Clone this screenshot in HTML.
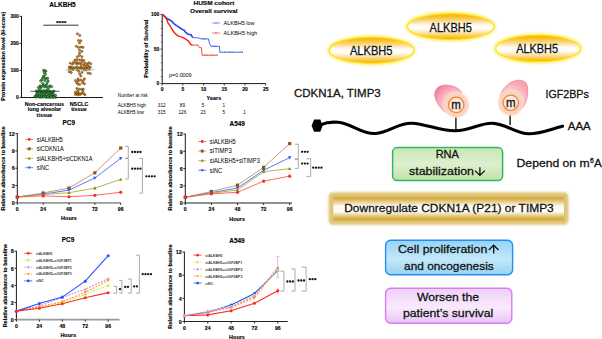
<!DOCTYPE html>
<html><head><meta charset="utf-8"><style>
html,body{margin:0;padding:0;background:#fff;width:602px;height:339px;overflow:hidden}
svg{display:block}
text{font-family:"Liberation Sans", sans-serif}
.r text{stroke:#111;stroke-width:0.28px}
.l text[font-weight=bold]{stroke:#000;stroke-width:0.12px}
</style></head><body>
<svg width="602" height="339" viewBox="0 0 602 339">
<rect width="602" height="339" fill="#fff"/>
<g class="r">
<defs>
 <linearGradient id="gy" x1="0" y1="0" x2="0" y2="1">
  <stop offset="0" stop-color="#f5b400"/>
  <stop offset="0.12" stop-color="#f7c028"/>
  <stop offset="0.3" stop-color="#fbde96"/>
  <stop offset="0.46" stop-color="#fffdf8"/>
  <stop offset="0.58" stop-color="#ffffff"/>
  <stop offset="0.75" stop-color="#fbe2a0"/>
  <stop offset="0.9" stop-color="#f7c432"/>
  <stop offset="1" stop-color="#f5b400"/>
 </linearGradient>
 <filter id="glowY" x="-20%" y="-50%" width="140%" height="200%">
  <feGaussianBlur stdDeviation="0.9"/>
 </filter>
 <linearGradient id="gg" x1="0" y1="0" x2="0" y2="1">
  <stop offset="0" stop-color="#d4a838"/>
  <stop offset="0.08" stop-color="#d8b048"/>
  <stop offset="0.4" stop-color="#fdfbf4"/>
  <stop offset="0.62" stop-color="#fdfbf4"/>
  <stop offset="0.9" stop-color="#d8b048"/>
  <stop offset="1" stop-color="#d4a838"/>
 </linearGradient>
 <filter id="glowG" x="-10%" y="-50%" width="120%" height="200%">
  <feGaussianBlur stdDeviation="1.1"/>
 </filter>
 <linearGradient id="ggr" x1="0" y1="0" x2="0" y2="1">
  <stop offset="0" stop-color="#c8e7b2"/>
  <stop offset="0.5" stop-color="#dcf0cf"/>
  <stop offset="1" stop-color="#c0e3a7"/>
 </linearGradient>
 <linearGradient id="gbl" x1="0" y1="0" x2="0" y2="1">
  <stop offset="0" stop-color="#97d3f3"/>
  <stop offset="0.55" stop-color="#c4e8f9"/>
  <stop offset="1" stop-color="#96d3f3"/>
 </linearGradient>
 <linearGradient id="gpk" x1="0" y1="0" x2="0" y2="1">
  <stop offset="0" stop-color="#eed0f8"/>
  <stop offset="0.55" stop-color="#f9eafc"/>
  <stop offset="1" stop-color="#e8c5f5"/>
 </linearGradient>
 <radialGradient id="pinkg" cx="0.55" cy="0.5" r="0.6">
  <stop offset="0" stop-color="#fcd0d8"/>
  <stop offset="0.6" stop-color="#f8a8b8"/>
  <stop offset="1" stop-color="#f27a95"/>
 </radialGradient>
 <radialGradient id="peach" cx="0.5" cy="0.5" r="0.5">
  <stop offset="0" stop-color="#fbcdb0"/>
  <stop offset="0.55" stop-color="#fbd3bc"/>
  <stop offset="0.75" stop-color="#fcdccc" stop-opacity="0.85"/>
  <stop offset="1" stop-color="#fde8de" stop-opacity="0"/>
 </radialGradient>
</defs>

<ellipse cx="450.7" cy="26.6" rx="43.8" ry="13.4" fill="none" stroke="#ffe94a" stroke-width="3.2" opacity="0.75" filter="url(#glowY)"/>
<ellipse cx="450.7" cy="26.6" rx="43.3" ry="12.9" fill="url(#gy)" stroke="#ffe000" stroke-width="1.1"/>
<text x="450.7" y="31.7" font-size="12.2" font-weight="normal" text-anchor="middle" fill="#111" textLength="42.2" lengthAdjust="spacingAndGlyphs" >ALKBH5</text>
<ellipse cx="371.5" cy="50.3" rx="42.8" ry="13.5" fill="none" stroke="#ffe94a" stroke-width="3.2" opacity="0.75" filter="url(#glowY)"/>
<ellipse cx="371.5" cy="50.3" rx="42.3" ry="13.0" fill="url(#gy)" stroke="#ffe000" stroke-width="1.1"/>
<text x="371.2" y="54.9" font-size="12.2" font-weight="normal" text-anchor="middle" fill="#111" textLength="42.4" lengthAdjust="spacingAndGlyphs" >ALKBH5</text>
<ellipse cx="538" cy="48.5" rx="42.8" ry="13.700000000000001" fill="none" stroke="#ffe94a" stroke-width="3.2" opacity="0.75" filter="url(#glowY)"/>
<ellipse cx="538" cy="48.5" rx="42.3" ry="13.200000000000001" fill="url(#gy)" stroke="#ffe000" stroke-width="1.1"/>
<text x="537.1" y="53.1" font-size="12.2" font-weight="normal" text-anchor="middle" fill="#111" textLength="41.9" lengthAdjust="spacingAndGlyphs" >ALKBH5</text>
<text x="294" y="97.3" font-size="11.4" font-weight="normal" text-anchor="start" fill="#111" textLength="86.7" lengthAdjust="spacingAndGlyphs" >CDKN1A, TIMP3</text>
<text x="545.5" y="97.5" font-size="11.4" font-weight="normal" text-anchor="start" fill="#111" textLength="43.3" lengthAdjust="spacingAndGlyphs" >IGF2BPs</text>
<text x="567.8" y="129.8" font-size="11.4" font-weight="normal" text-anchor="start" fill="#111" textLength="22.9" lengthAdjust="spacingAndGlyphs" >AAA</text>
<radialGradient id="pk1" gradientUnits="userSpaceOnUse" cx="455.8" cy="105.6" r="26"><stop offset="0.45" stop-color="#fbc9cf"/><stop offset="0.7" stop-color="#f8a4b4"/><stop offset="0.9" stop-color="#f5859f"/><stop offset="1" stop-color="#f27090"/></radialGradient>
<radialGradient id="pk2" gradientUnits="userSpaceOnUse" cx="510.4" cy="102.6" r="28"><stop offset="0.45" stop-color="#fbc9cf"/><stop offset="0.7" stop-color="#f8a9b6"/><stop offset="0.9" stop-color="#f6a0b2"/><stop offset="1" stop-color="#f27090"/></radialGradient>
<radialGradient id="peach2"><stop offset="0" stop-color="#fcd4be"/><stop offset="0.78" stop-color="#fbd2bc"/><stop offset="0.88" stop-color="#fcdaca" stop-opacity="0.8"/><stop offset="1" stop-color="#fde8de" stop-opacity="0"/></radialGradient>
<path d="M445.3,112.4 C440,108 434.5,100 434.7,94.2 C435,88 440,85 446,85 C452,85.2 459,88 461.3,91.8 C462.5,96 458,104 452,108 C449,110 447,111.5 445.3,112.4 Z" fill="url(#pk1)" stroke="#f47a96" stroke-width="0.7"/>
<path d="M500.3,96 C502,89 508,83 514,81 C519,79.5 524.5,80 526.6,84 C528.6,89 528,98 525,104 C523.5,107 522,108.5 520.5,109 C514,109 504,104 500.3,96 Z" fill="url(#pk2)" stroke="#f47a96" stroke-width="0.7"/>
<path d="M321,124.6 C327,122 333,121.8 338,122.3 C352,123.6 362,134.5 375.5,133.5 C389,132.6 398,122.6 412,123.2 C426,123.8 440,131.2 455.5,130.8 C470,130.4 480,123 492,123.2 C506,123.5 516,134 529,133.8 C541,133.6 552,128.8 562.5,126.2" fill="none" stroke="#000" stroke-width="3.1" stroke-linecap="round"/>
<polygon points="314.1,119.6 320.3,119.6 322.6,125.7 320.3,131.8 314.1,131.8 311.6,125.7" fill="#000"/>
<line x1="455.9" y1="112.4" x2="455.9" y2="130.5" stroke="#000" stroke-width="1.3" />
<line x1="510.1" y1="110.4" x2="510.1" y2="125" stroke="#000" stroke-width="1.3" />
<circle cx="456.2" cy="104.9" r="14" fill="url(#peach2)"/>
<circle cx="456.2" cy="104.9" r="7.7" fill="#fde8dc" stroke="#e8863a" stroke-width="1.2"/>
<text x="456.09999999999997" y="108.7" font-size="12" font-weight="normal" text-anchor="middle" fill="#111" textLength="9.6" lengthAdjust="spacingAndGlyphs" >m</text>
<circle cx="510.8" cy="102.8" r="14" fill="url(#peach2)"/>
<circle cx="510.8" cy="102.8" r="7.7" fill="#fde8dc" stroke="#e8863a" stroke-width="1.2"/>
<text x="510.7" y="106.6" font-size="12" font-weight="normal" text-anchor="middle" fill="#111" textLength="9.6" lengthAdjust="spacingAndGlyphs" >m</text>
<rect x="392.6" y="147.6" width="110" height="33" rx="4.5" fill="url(#ggr)" stroke="#2fb85e" stroke-width="1.5"/>
<text x="447.3" y="158.3" font-size="11.4" font-weight="normal" text-anchor="middle" fill="#111" textLength="23.3" lengthAdjust="spacingAndGlyphs" >RNA</text>
<text x="409.0" y="175.4" font-size="11.4" font-weight="normal" text-anchor="start" fill="#111" textLength="65" lengthAdjust="spacingAndGlyphs" >stabilization</text>
<path d="M479.9,167.2 L479.9,175.4 M475,170.6 L479.9,175.4 L484.8,170.6" fill="none" stroke="#111" stroke-width="1.3"/>
<text x="516.6" y="167.4" font-size="11.4" font-weight="normal" text-anchor="start" fill="#111" textLength="73" lengthAdjust="spacingAndGlyphs" >Depend on m</text>
<text x="590.0" y="162.6" font-size="7.0" font-weight="normal" text-anchor="start" fill="#111" textLength="3.8" lengthAdjust="spacingAndGlyphs" >6</text>
<text x="594.0" y="167.4" font-size="11.4" font-weight="normal" text-anchor="start" fill="#111" textLength="7.8" lengthAdjust="spacingAndGlyphs" >A</text>
<rect x="328.6" y="192.2" width="239.8" height="32.6" rx="4.5" fill="#dcbf68" opacity="0.92" filter="url(#glowG)"/>
<rect x="333.3" y="196.9" width="230.7" height="23.6" fill="url(#gg)"/>
<text x="449" y="212.4" font-size="11.4" font-weight="normal" text-anchor="middle" fill="#111" textLength="209.5" lengthAdjust="spacingAndGlyphs" >Downregulate CDKN1A (P21) or TIMP3</text>
<rect x="385.6" y="240.3" width="127" height="34.5" rx="5" fill="url(#gbl)" stroke="#1e8ff5" stroke-width="1.4"/>
<text x="397.9" y="253.4" font-size="11.4" font-weight="normal" text-anchor="start" fill="#111" textLength="89.4" lengthAdjust="spacingAndGlyphs" >Cell proliferation</text>
<path d="M493.7,253.6 L493.7,245.2 M488.8,250 L493.7,245.2 L498.6,250" fill="none" stroke="#111" stroke-width="1.3"/>
<text x="448.9" y="269.6" font-size="11.4" font-weight="normal" text-anchor="middle" fill="#111" textLength="89.6" lengthAdjust="spacingAndGlyphs" >and oncogenesis</text>
<rect x="385.6" y="288.3" width="126.2" height="35" rx="5" fill="url(#gpk)" stroke="#d47cf0" stroke-width="1.4"/>
<text x="448" y="300.8" font-size="11.4" font-weight="normal" text-anchor="middle" fill="#111" textLength="62.2" lengthAdjust="spacingAndGlyphs" >Worsen the</text>
<text x="448.1" y="316.9" font-size="11.4" font-weight="normal" text-anchor="middle" fill="#111" textLength="90.4" lengthAdjust="spacingAndGlyphs" >patient’s survival</text></g>
<g class="l"><line x1="21.5" y1="15.9" x2="21.5" y2="97.9" stroke="#000" stroke-width="0.9" />
<line x1="21.5" y1="97.5" x2="103" y2="97.5" stroke="#000" stroke-width="0.9" />
<line x1="19.5" y1="97.5" x2="21.5" y2="97.5" stroke="#000" stroke-width="0.8" />
<text x="18.9" y="99.3" font-size="5.0" font-weight="bold" text-anchor="end" fill="#000" >0</text>
<line x1="19.5" y1="70.43333333333334" x2="21.5" y2="70.43333333333334" stroke="#000" stroke-width="0.8" />
<text x="18.9" y="72.23333333333333" font-size="5.0" font-weight="bold" text-anchor="end" fill="#000" >100</text>
<line x1="19.5" y1="43.36666666666667" x2="21.5" y2="43.36666666666667" stroke="#000" stroke-width="0.8" />
<text x="18.9" y="45.166666666666664" font-size="5.0" font-weight="bold" text-anchor="end" fill="#000" >200</text>
<line x1="19.5" y1="16.299999999999997" x2="21.5" y2="16.299999999999997" stroke="#000" stroke-width="0.8" />
<text x="18.9" y="18.099999999999998" font-size="5.0" font-weight="bold" text-anchor="end" fill="#000" >300</text>
<text x="0" y="0" font-size="6.2" font-weight="bold" text-anchor="middle" fill="#000" textLength="89" lengthAdjust="spacingAndGlyphs" transform="translate(4.7,56.2) rotate(-90)">Protein expression level (H-score)</text>
<text x="62.5" y="6.7" font-size="6.6" font-weight="bold" text-anchor="middle" fill="#000" textLength="26.5" lengthAdjust="spacingAndGlyphs" >ALKBH5</text>
<line x1="43.3" y1="25.2" x2="78.5" y2="25.2" stroke="#000" stroke-width="0.8" />
<text x="61.2" y="24.9" font-size="5.6" font-weight="bold" text-anchor="middle" fill="#000" textLength="10.6" lengthAdjust="spacingAndGlyphs" >****</text>
<circle cx="37.42" cy="96.62" r="1.1" fill="#38ac44" stroke="#0a2a0a" stroke-width="0.5"/>
<circle cx="39.90" cy="97.09" r="1.1" fill="#38ac44" stroke="#0a2a0a" stroke-width="0.5"/>
<circle cx="42.91" cy="95.74" r="1.1" fill="#38ac44" stroke="#0a2a0a" stroke-width="0.5"/>
<circle cx="53.00" cy="97.30" r="1.1" fill="#38ac44" stroke="#0a2a0a" stroke-width="0.5"/>
<circle cx="46.24" cy="96.05" r="1.1" fill="#38ac44" stroke="#0a2a0a" stroke-width="0.5"/>
<circle cx="34.79" cy="96.51" r="1.1" fill="#38ac44" stroke="#0a2a0a" stroke-width="0.5"/>
<circle cx="49.20" cy="97.34" r="1.1" fill="#38ac44" stroke="#0a2a0a" stroke-width="0.5"/>
<circle cx="51.08" cy="96.13" r="1.1" fill="#38ac44" stroke="#0a2a0a" stroke-width="0.5"/>
<circle cx="55.56" cy="97.40" r="1.1" fill="#38ac44" stroke="#0a2a0a" stroke-width="0.5"/>
<circle cx="44.49" cy="96.33" r="1.1" fill="#38ac44" stroke="#0a2a0a" stroke-width="0.5"/>
<circle cx="41.68" cy="97.31" r="1.1" fill="#38ac44" stroke="#0a2a0a" stroke-width="0.5"/>
<circle cx="47.02" cy="97.25" r="1.1" fill="#38ac44" stroke="#0a2a0a" stroke-width="0.5"/>
<circle cx="54.47" cy="96.35" r="1.1" fill="#38ac44" stroke="#0a2a0a" stroke-width="0.5"/>
<circle cx="38.81" cy="95.26" r="1.1" fill="#38ac44" stroke="#0a2a0a" stroke-width="0.5"/>
<circle cx="36.10" cy="97.16" r="1.1" fill="#38ac44" stroke="#0a2a0a" stroke-width="0.5"/>
<circle cx="43.20" cy="96.90" r="1.1" fill="#38ac44" stroke="#0a2a0a" stroke-width="0.5"/>
<circle cx="48.21" cy="95.80" r="1.1" fill="#38ac44" stroke="#0a2a0a" stroke-width="0.5"/>
<circle cx="36.09" cy="94.93" r="1.1" fill="#38ac44" stroke="#0a2a0a" stroke-width="0.5"/>
<circle cx="41.09" cy="95.94" r="1.1" fill="#38ac44" stroke="#0a2a0a" stroke-width="0.5"/>
<circle cx="52.32" cy="96.43" r="1.1" fill="#38ac44" stroke="#0a2a0a" stroke-width="0.5"/>
<circle cx="53.27" cy="94.86" r="1.1" fill="#38ac44" stroke="#0a2a0a" stroke-width="0.5"/>
<circle cx="45.71" cy="97.37" r="1.1" fill="#38ac44" stroke="#0a2a0a" stroke-width="0.5"/>
<circle cx="49.86" cy="95.18" r="1.1" fill="#38ac44" stroke="#0a2a0a" stroke-width="0.5"/>
<circle cx="38.63" cy="96.72" r="1.1" fill="#38ac44" stroke="#0a2a0a" stroke-width="0.5"/>
<circle cx="50.37" cy="97.11" r="1.1" fill="#38ac44" stroke="#0a2a0a" stroke-width="0.5"/>
<circle cx="51.55" cy="97.18" r="1.1" fill="#38ac44" stroke="#0a2a0a" stroke-width="0.5"/>
<circle cx="47.73" cy="96.67" r="1.1" fill="#38ac44" stroke="#0a2a0a" stroke-width="0.5"/>
<circle cx="55.54" cy="95.29" r="1.1" fill="#38ac44" stroke="#0a2a0a" stroke-width="0.5"/>
<circle cx="53.81" cy="97.01" r="1.1" fill="#38ac44" stroke="#0a2a0a" stroke-width="0.5"/>
<circle cx="39.89" cy="95.93" r="1.1" fill="#38ac44" stroke="#0a2a0a" stroke-width="0.5"/>
<circle cx="49.83" cy="91.33" r="1.1" fill="#38ac44" stroke="#0a2a0a" stroke-width="0.5"/>
<circle cx="36.89" cy="92.78" r="1.1" fill="#38ac44" stroke="#0a2a0a" stroke-width="0.5"/>
<circle cx="46.99" cy="91.83" r="1.1" fill="#38ac44" stroke="#0a2a0a" stroke-width="0.5"/>
<circle cx="45.01" cy="94.45" r="1.1" fill="#38ac44" stroke="#0a2a0a" stroke-width="0.5"/>
<circle cx="46.64" cy="94.47" r="1.1" fill="#38ac44" stroke="#0a2a0a" stroke-width="0.5"/>
<circle cx="40.97" cy="93.68" r="1.1" fill="#38ac44" stroke="#0a2a0a" stroke-width="0.5"/>
<circle cx="54.03" cy="91.11" r="1.1" fill="#38ac44" stroke="#0a2a0a" stroke-width="0.5"/>
<circle cx="42.68" cy="92.48" r="1.1" fill="#38ac44" stroke="#0a2a0a" stroke-width="0.5"/>
<circle cx="50.96" cy="93.09" r="1.1" fill="#38ac44" stroke="#0a2a0a" stroke-width="0.5"/>
<circle cx="40.77" cy="91.62" r="1.1" fill="#38ac44" stroke="#0a2a0a" stroke-width="0.5"/>
<circle cx="38.89" cy="92.34" r="1.1" fill="#38ac44" stroke="#0a2a0a" stroke-width="0.5"/>
<circle cx="53.06" cy="93.17" r="1.1" fill="#38ac44" stroke="#0a2a0a" stroke-width="0.5"/>
<circle cx="43.51" cy="90.49" r="1.1" fill="#38ac44" stroke="#0a2a0a" stroke-width="0.5"/>
<circle cx="36.31" cy="91.01" r="1.1" fill="#38ac44" stroke="#0a2a0a" stroke-width="0.5"/>
<circle cx="48.67" cy="93.47" r="1.1" fill="#38ac44" stroke="#0a2a0a" stroke-width="0.5"/>
<circle cx="52.24" cy="91.68" r="1.1" fill="#38ac44" stroke="#0a2a0a" stroke-width="0.5"/>
<circle cx="45.03" cy="91.95" r="1.1" fill="#38ac44" stroke="#0a2a0a" stroke-width="0.5"/>
<circle cx="39.52" cy="90.06" r="1.1" fill="#38ac44" stroke="#0a2a0a" stroke-width="0.5"/>
<circle cx="38.18" cy="90.84" r="1.1" fill="#38ac44" stroke="#0a2a0a" stroke-width="0.5"/>
<circle cx="44.03" cy="93.23" r="1.1" fill="#38ac44" stroke="#0a2a0a" stroke-width="0.5"/>
<circle cx="47.58" cy="89.49" r="1.1" fill="#38ac44" stroke="#0a2a0a" stroke-width="0.5"/>
<circle cx="52.04" cy="94.15" r="1.1" fill="#38ac44" stroke="#0a2a0a" stroke-width="0.5"/>
<circle cx="49.55" cy="92.53" r="1.1" fill="#38ac44" stroke="#0a2a0a" stroke-width="0.5"/>
<circle cx="46.07" cy="90.69" r="1.1" fill="#38ac44" stroke="#0a2a0a" stroke-width="0.5"/>
<circle cx="38.03" cy="93.97" r="1.1" fill="#38ac44" stroke="#0a2a0a" stroke-width="0.5"/>
<circle cx="48.18" cy="92.15" r="1.1" fill="#38ac44" stroke="#0a2a0a" stroke-width="0.5"/>
<circle cx="42.16" cy="94.58" r="1.1" fill="#38ac44" stroke="#0a2a0a" stroke-width="0.5"/>
<circle cx="41.93" cy="91.18" r="1.1" fill="#38ac44" stroke="#0a2a0a" stroke-width="0.5"/>
<circle cx="48.38" cy="90.65" r="1.1" fill="#38ac44" stroke="#0a2a0a" stroke-width="0.5"/>
<circle cx="43.81" cy="91.69" r="1.1" fill="#38ac44" stroke="#0a2a0a" stroke-width="0.5"/>
<circle cx="49.66" cy="85.83" r="1.1" fill="#38ac44" stroke="#0a2a0a" stroke-width="0.5"/>
<circle cx="40.71" cy="88.11" r="1.1" fill="#38ac44" stroke="#0a2a0a" stroke-width="0.5"/>
<circle cx="51.68" cy="86.56" r="1.1" fill="#38ac44" stroke="#0a2a0a" stroke-width="0.5"/>
<circle cx="46.80" cy="86.97" r="1.1" fill="#38ac44" stroke="#0a2a0a" stroke-width="0.5"/>
<circle cx="44.68" cy="87.03" r="1.1" fill="#38ac44" stroke="#0a2a0a" stroke-width="0.5"/>
<circle cx="38.37" cy="87.53" r="1.1" fill="#38ac44" stroke="#0a2a0a" stroke-width="0.5"/>
<circle cx="40.04" cy="85.97" r="1.1" fill="#38ac44" stroke="#0a2a0a" stroke-width="0.5"/>
<circle cx="42.87" cy="85.54" r="1.1" fill="#38ac44" stroke="#0a2a0a" stroke-width="0.5"/>
<circle cx="49.21" cy="87.46" r="1.1" fill="#38ac44" stroke="#0a2a0a" stroke-width="0.5"/>
<circle cx="41.56" cy="86.68" r="1.1" fill="#38ac44" stroke="#0a2a0a" stroke-width="0.5"/>
<circle cx="46.38" cy="84.91" r="1.1" fill="#38ac44" stroke="#0a2a0a" stroke-width="0.5"/>
<circle cx="44.76" cy="80.57" r="1.1" fill="#38ac44" stroke="#0a2a0a" stroke-width="0.5"/>
<circle cx="48.17" cy="80.94" r="1.1" fill="#38ac44" stroke="#0a2a0a" stroke-width="0.5"/>
<circle cx="46.38" cy="78.60" r="1.1" fill="#38ac44" stroke="#0a2a0a" stroke-width="0.5"/>
<circle cx="41.91" cy="79.76" r="1.1" fill="#38ac44" stroke="#0a2a0a" stroke-width="0.5"/>
<circle cx="42.64" cy="83.39" r="1.1" fill="#38ac44" stroke="#0a2a0a" stroke-width="0.5"/>
<circle cx="47.17" cy="82.71" r="1.1" fill="#38ac44" stroke="#0a2a0a" stroke-width="0.5"/>
<circle cx="40.62" cy="80.80" r="1.1" fill="#38ac44" stroke="#0a2a0a" stroke-width="0.5"/>
<circle cx="44.60" cy="85.17" r="1.1" fill="#38ac44" stroke="#0a2a0a" stroke-width="0.5"/>
<circle cx="43.45" cy="76.05" r="1.1" fill="#38ac44" stroke="#0a2a0a" stroke-width="0.5"/>
<circle cx="44.58" cy="77.64" r="1.1" fill="#38ac44" stroke="#0a2a0a" stroke-width="0.5"/>
<circle cx="42.83" cy="77.92" r="1.1" fill="#38ac44" stroke="#0a2a0a" stroke-width="0.5"/>
<circle cx="47.64" cy="78.23" r="1.1" fill="#38ac44" stroke="#0a2a0a" stroke-width="0.5"/>
<circle cx="45.44" cy="74.39" r="1.1" fill="#38ac44" stroke="#0a2a0a" stroke-width="0.5"/>
<circle cx="44.24" cy="72.60" r="1.1" fill="#38ac44" stroke="#0a2a0a" stroke-width="0.5"/>
<circle cx="45.87" cy="71.25" r="1.1" fill="#38ac44" stroke="#0a2a0a" stroke-width="0.5"/>
<circle cx="43.64" cy="70.43" r="1.1" fill="#38ac44" stroke="#0a2a0a" stroke-width="0.5"/>
<circle cx="44.84" cy="70.70" r="1.1" fill="#38ac44" stroke="#0a2a0a" stroke-width="0.5"/>
<line x1="30.4" y1="91.27466666666666" x2="59.5" y2="91.27466666666666" stroke="#333" stroke-width="0.8" />
<circle cx="79.21" cy="93.54" r="1.05" fill="#e8900c" stroke="#2a1500" stroke-width="0.45"/>
<circle cx="76.56" cy="94.13" r="1.05" fill="#e8900c" stroke="#2a1500" stroke-width="0.45"/>
<circle cx="77.90" cy="90.99" r="1.05" fill="#e8900c" stroke="#2a1500" stroke-width="0.45"/>
<circle cx="81.30" cy="93.63" r="1.05" fill="#e8900c" stroke="#2a1500" stroke-width="0.45"/>
<circle cx="84.94" cy="94.67" r="1.05" fill="#e8900c" stroke="#2a1500" stroke-width="0.45"/>
<circle cx="75.42" cy="92.20" r="1.05" fill="#e8900c" stroke="#2a1500" stroke-width="0.45"/>
<circle cx="82.88" cy="91.59" r="1.05" fill="#e8900c" stroke="#2a1500" stroke-width="0.45"/>
<circle cx="83.42" cy="93.39" r="1.05" fill="#e8900c" stroke="#2a1500" stroke-width="0.45"/>
<circle cx="78.15" cy="94.93" r="1.05" fill="#e8900c" stroke="#2a1500" stroke-width="0.45"/>
<circle cx="80.13" cy="94.44" r="1.05" fill="#e8900c" stroke="#2a1500" stroke-width="0.45"/>
<circle cx="75.30" cy="94.40" r="1.05" fill="#e8900c" stroke="#2a1500" stroke-width="0.45"/>
<circle cx="77.44" cy="92.61" r="1.05" fill="#e8900c" stroke="#2a1500" stroke-width="0.45"/>
<circle cx="81.73" cy="89.54" r="1.05" fill="#e8900c" stroke="#2a1500" stroke-width="0.45"/>
<circle cx="79.47" cy="89.15" r="1.05" fill="#e8900c" stroke="#2a1500" stroke-width="0.45"/>
<circle cx="76.88" cy="88.48" r="1.05" fill="#e8900c" stroke="#2a1500" stroke-width="0.45"/>
<circle cx="83.29" cy="89.17" r="1.05" fill="#e8900c" stroke="#2a1500" stroke-width="0.45"/>
<circle cx="79.65" cy="84.55" r="1.05" fill="#e8900c" stroke="#2a1500" stroke-width="0.45"/>
<circle cx="82.40" cy="82.67" r="1.05" fill="#e8900c" stroke="#2a1500" stroke-width="0.45"/>
<circle cx="76.53" cy="82.41" r="1.05" fill="#e8900c" stroke="#2a1500" stroke-width="0.45"/>
<circle cx="84.43" cy="83.83" r="1.05" fill="#e8900c" stroke="#2a1500" stroke-width="0.45"/>
<circle cx="77.71" cy="84.06" r="1.05" fill="#e8900c" stroke="#2a1500" stroke-width="0.45"/>
<circle cx="75.41" cy="80.51" r="1.05" fill="#e8900c" stroke="#2a1500" stroke-width="0.45"/>
<circle cx="80.67" cy="80.03" r="1.05" fill="#e8900c" stroke="#2a1500" stroke-width="0.45"/>
<circle cx="83.20" cy="80.67" r="1.05" fill="#e8900c" stroke="#2a1500" stroke-width="0.45"/>
<circle cx="84.45" cy="78.92" r="1.05" fill="#e8900c" stroke="#2a1500" stroke-width="0.45"/>
<circle cx="78.00" cy="78.90" r="1.05" fill="#e8900c" stroke="#2a1500" stroke-width="0.45"/>
<circle cx="78.39" cy="80.90" r="1.05" fill="#e8900c" stroke="#2a1500" stroke-width="0.45"/>
<circle cx="79.69" cy="73.96" r="1.05" fill="#e8900c" stroke="#2a1500" stroke-width="0.45"/>
<circle cx="80.83" cy="76.06" r="1.05" fill="#e8900c" stroke="#2a1500" stroke-width="0.45"/>
<circle cx="87.17" cy="64.09" r="1.05" fill="#e8900c" stroke="#2a1500" stroke-width="0.45"/>
<circle cx="72.62" cy="64.15" r="1.05" fill="#e8900c" stroke="#2a1500" stroke-width="0.45"/>
<circle cx="75.51" cy="62.78" r="1.05" fill="#e8900c" stroke="#2a1500" stroke-width="0.45"/>
<circle cx="78.75" cy="71.36" r="1.05" fill="#e8900c" stroke="#2a1500" stroke-width="0.45"/>
<circle cx="81.39" cy="68.83" r="1.05" fill="#e8900c" stroke="#2a1500" stroke-width="0.45"/>
<circle cx="79.13" cy="63.33" r="1.05" fill="#e8900c" stroke="#2a1500" stroke-width="0.45"/>
<circle cx="90.37" cy="73.56" r="1.05" fill="#e8900c" stroke="#2a1500" stroke-width="0.45"/>
<circle cx="88.04" cy="73.14" r="1.05" fill="#e8900c" stroke="#2a1500" stroke-width="0.45"/>
<circle cx="90.44" cy="67.26" r="1.05" fill="#e8900c" stroke="#2a1500" stroke-width="0.45"/>
<circle cx="86.85" cy="68.03" r="1.05" fill="#e8900c" stroke="#2a1500" stroke-width="0.45"/>
<circle cx="70.32" cy="63.22" r="1.05" fill="#e8900c" stroke="#2a1500" stroke-width="0.45"/>
<circle cx="83.88" cy="64.89" r="1.05" fill="#e8900c" stroke="#2a1500" stroke-width="0.45"/>
<circle cx="75.53" cy="67.56" r="1.05" fill="#e8900c" stroke="#2a1500" stroke-width="0.45"/>
<circle cx="81.56" cy="62.33" r="1.05" fill="#e8900c" stroke="#2a1500" stroke-width="0.45"/>
<circle cx="79.58" cy="67.80" r="1.05" fill="#e8900c" stroke="#2a1500" stroke-width="0.45"/>
<circle cx="83.24" cy="67.80" r="1.05" fill="#e8900c" stroke="#2a1500" stroke-width="0.45"/>
<circle cx="88.47" cy="65.89" r="1.05" fill="#e8900c" stroke="#2a1500" stroke-width="0.45"/>
<circle cx="69.61" cy="69.25" r="1.05" fill="#e8900c" stroke="#2a1500" stroke-width="0.45"/>
<circle cx="73.15" cy="69.61" r="1.05" fill="#e8900c" stroke="#2a1500" stroke-width="0.45"/>
<circle cx="70.87" cy="66.92" r="1.05" fill="#e8900c" stroke="#2a1500" stroke-width="0.45"/>
<circle cx="77.18" cy="69.69" r="1.05" fill="#e8900c" stroke="#2a1500" stroke-width="0.45"/>
<circle cx="84.72" cy="62.91" r="1.05" fill="#e8900c" stroke="#2a1500" stroke-width="0.45"/>
<circle cx="85.65" cy="65.99" r="1.05" fill="#e8900c" stroke="#2a1500" stroke-width="0.45"/>
<circle cx="72.70" cy="67.71" r="1.05" fill="#e8900c" stroke="#2a1500" stroke-width="0.45"/>
<circle cx="71.19" cy="72.56" r="1.05" fill="#e8900c" stroke="#2a1500" stroke-width="0.45"/>
<circle cx="89.36" cy="69.42" r="1.05" fill="#e8900c" stroke="#2a1500" stroke-width="0.45"/>
<circle cx="71.43" cy="69.12" r="1.05" fill="#e8900c" stroke="#2a1500" stroke-width="0.45"/>
<circle cx="77.53" cy="67.30" r="1.05" fill="#e8900c" stroke="#2a1500" stroke-width="0.45"/>
<circle cx="69.13" cy="67.16" r="1.05" fill="#e8900c" stroke="#2a1500" stroke-width="0.45"/>
<circle cx="90.75" cy="63.68" r="1.05" fill="#e8900c" stroke="#2a1500" stroke-width="0.45"/>
<circle cx="88.78" cy="62.72" r="1.05" fill="#e8900c" stroke="#2a1500" stroke-width="0.45"/>
<circle cx="85.15" cy="68.15" r="1.05" fill="#e8900c" stroke="#2a1500" stroke-width="0.45"/>
<circle cx="78.31" cy="68.68" r="1.05" fill="#e8900c" stroke="#2a1500" stroke-width="0.45"/>
<circle cx="81.22" cy="66.58" r="1.05" fill="#e8900c" stroke="#2a1500" stroke-width="0.45"/>
<circle cx="73.47" cy="62.36" r="1.05" fill="#e8900c" stroke="#2a1500" stroke-width="0.45"/>
<circle cx="84.02" cy="69.78" r="1.05" fill="#e8900c" stroke="#2a1500" stroke-width="0.45"/>
<circle cx="88.43" cy="67.65" r="1.05" fill="#e8900c" stroke="#2a1500" stroke-width="0.45"/>
<circle cx="81.25" cy="64.41" r="1.05" fill="#e8900c" stroke="#2a1500" stroke-width="0.45"/>
<circle cx="69.23" cy="71.74" r="1.05" fill="#e8900c" stroke="#2a1500" stroke-width="0.45"/>
<circle cx="86.25" cy="70.07" r="1.05" fill="#e8900c" stroke="#2a1500" stroke-width="0.45"/>
<circle cx="77.33" cy="62.56" r="1.05" fill="#e8900c" stroke="#2a1500" stroke-width="0.45"/>
<circle cx="76.85" cy="64.29" r="1.05" fill="#e8900c" stroke="#2a1500" stroke-width="0.45"/>
<circle cx="74.32" cy="67.85" r="1.05" fill="#e8900c" stroke="#2a1500" stroke-width="0.45"/>
<circle cx="82.04" cy="72.43" r="1.05" fill="#e8900c" stroke="#2a1500" stroke-width="0.45"/>
<circle cx="79.59" cy="59.89" r="1.05" fill="#e8900c" stroke="#2a1500" stroke-width="0.45"/>
<circle cx="83.74" cy="60.45" r="1.05" fill="#e8900c" stroke="#2a1500" stroke-width="0.45"/>
<circle cx="74.95" cy="60.09" r="1.05" fill="#e8900c" stroke="#2a1500" stroke-width="0.45"/>
<circle cx="76.93" cy="59.63" r="1.05" fill="#e8900c" stroke="#2a1500" stroke-width="0.45"/>
<circle cx="81.99" cy="59.91" r="1.05" fill="#e8900c" stroke="#2a1500" stroke-width="0.45"/>
<circle cx="77.40" cy="33.80" r="1.05" fill="#e8900c" stroke="#2a1500" stroke-width="0.45"/>
<circle cx="79.80" cy="35.40" r="1.05" fill="#e8900c" stroke="#2a1500" stroke-width="0.45"/>
<circle cx="78.50" cy="40.50" r="1.05" fill="#e8900c" stroke="#2a1500" stroke-width="0.45"/>
<circle cx="80.90" cy="40.70" r="1.05" fill="#e8900c" stroke="#2a1500" stroke-width="0.45"/>
<circle cx="79.50" cy="42.90" r="1.05" fill="#e8900c" stroke="#2a1500" stroke-width="0.45"/>
<circle cx="76.30" cy="46.30" r="1.05" fill="#e8900c" stroke="#2a1500" stroke-width="0.45"/>
<circle cx="78.50" cy="47.40" r="1.05" fill="#e8900c" stroke="#2a1500" stroke-width="0.45"/>
<circle cx="80.90" cy="47.10" r="1.05" fill="#e8900c" stroke="#2a1500" stroke-width="0.45"/>
<circle cx="83.00" cy="47.40" r="1.05" fill="#e8900c" stroke="#2a1500" stroke-width="0.45"/>
<circle cx="79.50" cy="50.10" r="1.05" fill="#e8900c" stroke="#2a1500" stroke-width="0.45"/>
<circle cx="81.90" cy="51.40" r="1.05" fill="#e8900c" stroke="#2a1500" stroke-width="0.45"/>
<circle cx="79.50" cy="53.00" r="1.05" fill="#e8900c" stroke="#2a1500" stroke-width="0.45"/>
<circle cx="77.40" cy="56.70" r="1.05" fill="#e8900c" stroke="#2a1500" stroke-width="0.45"/>
<circle cx="79.50" cy="55.40" r="1.05" fill="#e8900c" stroke="#2a1500" stroke-width="0.45"/>
<circle cx="81.90" cy="56.70" r="1.05" fill="#e8900c" stroke="#2a1500" stroke-width="0.45"/>
<line x1="65.5" y1="69.8" x2="94.3" y2="69.8" stroke="#aaa" stroke-width="0.8" />
<text x="44.4" y="105.8" font-size="5.4" font-weight="bold" text-anchor="middle" fill="#000" >Non-cancerous</text>
<text x="44.4" y="111.4" font-size="5.4" font-weight="bold" text-anchor="middle" fill="#000" >lung alveolar</text>
<text x="44.4" y="117.2" font-size="5.4" font-weight="bold" text-anchor="middle" fill="#000" >tissue</text>
<text x="79" y="105.8" font-size="5.4" font-weight="bold" text-anchor="middle" fill="#000" >NSCLC</text>
<text x="79" y="111.4" font-size="5.4" font-weight="bold" text-anchor="middle" fill="#000" >tissue</text>
<line x1="162.2" y1="14.2" x2="162.2" y2="83.6" stroke="#000" stroke-width="0.9" />
<line x1="162.2" y1="83.6" x2="265.8" y2="83.6" stroke="#000" stroke-width="0.9" />
<line x1="160.2" y1="83.6" x2="162.2" y2="83.6" stroke="#000" stroke-width="0.6" />
<line x1="160.89999999999998" y1="76.69999999999999" x2="162.2" y2="76.69999999999999" stroke="#000" stroke-width="0.6" />
<line x1="160.89999999999998" y1="69.8" x2="162.2" y2="69.8" stroke="#000" stroke-width="0.6" />
<line x1="160.89999999999998" y1="62.89999999999999" x2="162.2" y2="62.89999999999999" stroke="#000" stroke-width="0.6" />
<line x1="160.89999999999998" y1="55.99999999999999" x2="162.2" y2="55.99999999999999" stroke="#000" stroke-width="0.6" />
<line x1="160.2" y1="49.099999999999994" x2="162.2" y2="49.099999999999994" stroke="#000" stroke-width="0.6" />
<line x1="160.89999999999998" y1="42.199999999999996" x2="162.2" y2="42.199999999999996" stroke="#000" stroke-width="0.6" />
<line x1="160.89999999999998" y1="35.3" x2="162.2" y2="35.3" stroke="#000" stroke-width="0.6" />
<line x1="160.89999999999998" y1="28.39999999999999" x2="162.2" y2="28.39999999999999" stroke="#000" stroke-width="0.6" />
<line x1="160.89999999999998" y1="21.499999999999993" x2="162.2" y2="21.499999999999993" stroke="#000" stroke-width="0.6" />
<line x1="160.2" y1="14.599999999999994" x2="162.2" y2="14.599999999999994" stroke="#000" stroke-width="0.6" />
<text x="159.4" y="85.39999999999999" font-size="5.0" font-weight="bold" text-anchor="end" fill="#000" >0</text>
<text x="159.4" y="50.89999999999999" font-size="5.0" font-weight="bold" text-anchor="end" fill="#000" >50</text>
<text x="159.4" y="16.399999999999995" font-size="5.0" font-weight="bold" text-anchor="end" fill="#000" >100</text>
<line x1="162.2" y1="83.6" x2="162.2" y2="85.6" stroke="#000" stroke-width="0.7" />
<text x="162.2" y="91.4" font-size="5.0" font-weight="bold" text-anchor="middle" fill="#000" >0</text>
<line x1="182.89999999999998" y1="83.6" x2="182.89999999999998" y2="85.6" stroke="#000" stroke-width="0.7" />
<text x="182.89999999999998" y="91.4" font-size="5.0" font-weight="bold" text-anchor="middle" fill="#000" >5</text>
<line x1="203.6" y1="83.6" x2="203.6" y2="85.6" stroke="#000" stroke-width="0.7" />
<text x="203.6" y="91.4" font-size="5.0" font-weight="bold" text-anchor="middle" fill="#000" >10</text>
<line x1="224.29999999999998" y1="83.6" x2="224.29999999999998" y2="85.6" stroke="#000" stroke-width="0.7" />
<text x="224.29999999999998" y="91.4" font-size="5.0" font-weight="bold" text-anchor="middle" fill="#000" >15</text>
<line x1="245.0" y1="83.6" x2="245.0" y2="85.6" stroke="#000" stroke-width="0.7" />
<text x="245.0" y="91.4" font-size="5.0" font-weight="bold" text-anchor="middle" fill="#000" >20</text>
<line x1="265.7" y1="83.6" x2="265.7" y2="85.6" stroke="#000" stroke-width="0.7" />
<text x="265.7" y="91.4" font-size="5.0" font-weight="bold" text-anchor="middle" fill="#000" >25</text>
<text x="0" y="0" font-size="6.0" font-weight="bold" text-anchor="middle" fill="#000" textLength="58" lengthAdjust="spacingAndGlyphs" transform="translate(148.2,48.7) rotate(-90)">Probability of Survival</text>
<text x="214" y="5.0" font-size="6.2" font-weight="bold" text-anchor="middle" fill="#000" textLength="41" lengthAdjust="spacingAndGlyphs" >HUSM cohort</text>
<text x="213.8" y="12.8" font-size="6.2" font-weight="bold" text-anchor="middle" fill="#000" textLength="47.5" lengthAdjust="spacingAndGlyphs" >Overall survival</text>
<polyline points="162.10,14.10 165.10,16.50 167.40,18.80 169.80,20.00 171.60,21.20 173.90,23.60 176.90,25.90 179.80,27.70 182.20,29.50 183.90,30.00 185.70,32.40 188.10,34.20 191.00,34.80 192.80,37.70" fill="none" stroke="#1f4cf0" stroke-width="1.6" />
<polyline points="192.80,37.70 196.90,37.70 196.90,37.70 199.90,38.30 201.00,38.90 208.60,38.90 208.60,39.20 209.40,43.30 211.20,46.30 219.40,46.30 219.40,46.30 219.80,52.20 243.00,52.20 243.00,52.20" fill="none" stroke="#1f4cf0" stroke-width="0.85" />
<polyline points="162.10,14.70 164.50,16.50 166.80,19.40 168.00,23.00 169.80,25.30 171.60,28.30 173.30,31.20 175.70,34.20 178.00,35.90 181.00,36.90 183.40,37.70 186.30,39.50 188.70,41.30 190.40,44.20 192.20,45.10" fill="none" stroke="#f42a14" stroke-width="1.5" />
<polyline points="190.40,44.20 192.20,45.10 198.10,45.10 198.10,45.10 199.30,47.70 201.50,47.70 202.00,55.20 217.60,55.20 217.60,55.20" fill="none" stroke="#f42a14" stroke-width="0.85" />
<line x1="203" y1="38.2" x2="203" y2="39.800000000000004" stroke="#2255ee" stroke-width="0.5" />
<line x1="205" y1="38.2" x2="205" y2="39.800000000000004" stroke="#2255ee" stroke-width="0.5" />
<line x1="213" y1="45.3" x2="213" y2="46.9" stroke="#2255ee" stroke-width="0.5" />
<line x1="215" y1="45.3" x2="215" y2="46.9" stroke="#2255ee" stroke-width="0.5" />
<line x1="225" y1="51.2" x2="225" y2="52.800000000000004" stroke="#2255ee" stroke-width="0.5" />
<line x1="229" y1="51.2" x2="229" y2="52.800000000000004" stroke="#2255ee" stroke-width="0.5" />
<line x1="232" y1="51.2" x2="232" y2="52.800000000000004" stroke="#2255ee" stroke-width="0.5" />
<line x1="242.5" y1="51.2" x2="242.5" y2="52.800000000000004" stroke="#2255ee" stroke-width="0.5" />
<line x1="205" y1="54.2" x2="205" y2="55.8" stroke="#ee2a1a" stroke-width="0.5" />
<line x1="207" y1="54.2" x2="207" y2="55.8" stroke="#ee2a1a" stroke-width="0.5" />
<line x1="210" y1="54.2" x2="210" y2="55.8" stroke="#ee2a1a" stroke-width="0.5" />
<line x1="213" y1="54.2" x2="213" y2="55.8" stroke="#ee2a1a" stroke-width="0.5" />
<line x1="217.3" y1="54.2" x2="217.3" y2="55.8" stroke="#ee2a1a" stroke-width="0.5" />
<line x1="212.1" y1="23" x2="220" y2="23" stroke="#2255ee" stroke-width="0.6" />
<line x1="216" y1="22" x2="216" y2="24" stroke="#2255ee" stroke-width="0.6" />
<line x1="212.1" y1="33" x2="220" y2="33" stroke="#ee2a1a" stroke-width="0.6" />
<line x1="216" y1="32" x2="216" y2="34" stroke="#ee2a1a" stroke-width="0.6" />
<text x="223.6" y="25.2" font-size="5.2" font-weight="normal" text-anchor="start" fill="#000" textLength="31" lengthAdjust="spacingAndGlyphs" >ALKBH5 low</text>
<text x="223.6" y="35.2" font-size="5.2" font-weight="normal" text-anchor="start" fill="#000" textLength="33.5" lengthAdjust="spacingAndGlyphs" >ALKBH5 high</text>
<text x="169" y="77.0" font-size="5.5" font-weight="normal" text-anchor="start" fill="#000" textLength="22.6" lengthAdjust="spacingAndGlyphs" >p=0.0009</text>
<text x="213.9" y="100.4" font-size="5.6" font-weight="bold" text-anchor="middle" fill="#000" textLength="14.6" lengthAdjust="spacingAndGlyphs" >Years</text>
<text x="117.8" y="96.5" font-size="4.6" font-weight="normal" text-anchor="start" fill="#000" textLength="30" lengthAdjust="spacingAndGlyphs" >Number at risk</text>
<text x="117.8" y="106.8" font-size="4.6" font-weight="normal" text-anchor="start" fill="#000" textLength="28.2" lengthAdjust="spacingAndGlyphs" >ALKBH5 high</text>
<text x="117.8" y="113.5" font-size="4.6" font-weight="normal" text-anchor="start" fill="#000" textLength="26" lengthAdjust="spacingAndGlyphs" >ALKBH5 low</text>
<text x="161.7" y="106.8" font-size="4.6" font-weight="normal" text-anchor="middle" fill="#000" >312</text>
<text x="182.39999999999998" y="106.8" font-size="4.6" font-weight="normal" text-anchor="middle" fill="#000" >89</text>
<text x="203.1" y="106.8" font-size="4.6" font-weight="normal" text-anchor="middle" fill="#000" >5</text>
<text x="223.79999999999998" y="106.8" font-size="4.6" font-weight="normal" text-anchor="middle" fill="#000" >1</text>
<text x="161.7" y="113.8" font-size="4.6" font-weight="normal" text-anchor="middle" fill="#000" >315</text>
<text x="182.39999999999998" y="113.8" font-size="4.6" font-weight="normal" text-anchor="middle" fill="#000" >126</text>
<text x="203.1" y="113.8" font-size="4.6" font-weight="normal" text-anchor="middle" fill="#000" >23</text>
<text x="223.79999999999998" y="113.8" font-size="4.6" font-weight="normal" text-anchor="middle" fill="#000" >5</text>
<text x="244.5" y="113.8" font-size="4.6" font-weight="normal" text-anchor="middle" fill="#000" >1</text>
<line x1="17.3" y1="133.2" x2="17.3" y2="202.8" stroke="#000" stroke-width="0.9" />
<line x1="17.3" y1="202.8" x2="120.7" y2="202.8" stroke="#9a9a9a" stroke-width="1.7" />
<line x1="15.3" y1="202.8" x2="17.3" y2="202.8" stroke="#000" stroke-width="0.8" />
<text x="14.700000000000001" y="205.0" font-size="5.4" font-weight="bold" text-anchor="end" fill="#000" >0</text>
<line x1="15.3" y1="185.5" x2="17.3" y2="185.5" stroke="#000" stroke-width="0.8" />
<text x="14.700000000000001" y="187.7" font-size="5.4" font-weight="bold" text-anchor="end" fill="#000" >3</text>
<line x1="15.3" y1="168.2" x2="17.3" y2="168.2" stroke="#000" stroke-width="0.8" />
<text x="14.700000000000001" y="170.39999999999998" font-size="5.4" font-weight="bold" text-anchor="end" fill="#000" >6</text>
<line x1="15.3" y1="150.9" x2="17.3" y2="150.9" stroke="#000" stroke-width="0.8" />
<text x="14.700000000000001" y="153.1" font-size="5.4" font-weight="bold" text-anchor="end" fill="#000" >9</text>
<line x1="15.3" y1="133.6" x2="17.3" y2="133.6" stroke="#000" stroke-width="0.8" />
<text x="14.700000000000001" y="135.79999999999998" font-size="5.4" font-weight="bold" text-anchor="end" fill="#000" >12</text>
<line x1="17.3" y1="202.8" x2="17.3" y2="204.8" stroke="#000" stroke-width="0.8" />
<text x="17.3" y="210.7" font-size="5.2" font-weight="bold" text-anchor="middle" fill="#000" >0</text>
<line x1="43.150000000000006" y1="202.8" x2="43.150000000000006" y2="204.8" stroke="#000" stroke-width="0.8" />
<text x="43.150000000000006" y="210.7" font-size="5.2" font-weight="bold" text-anchor="middle" fill="#000" >24</text>
<line x1="69.00000000000001" y1="202.8" x2="69.00000000000001" y2="204.8" stroke="#000" stroke-width="0.8" />
<text x="69.00000000000001" y="210.7" font-size="5.2" font-weight="bold" text-anchor="middle" fill="#000" >48</text>
<line x1="94.85" y1="202.8" x2="94.85" y2="204.8" stroke="#000" stroke-width="0.8" />
<text x="94.85" y="210.7" font-size="5.2" font-weight="bold" text-anchor="middle" fill="#000" >72</text>
<line x1="120.70000000000002" y1="202.8" x2="120.70000000000002" y2="204.8" stroke="#000" stroke-width="0.8" />
<text x="120.70000000000002" y="210.7" font-size="5.2" font-weight="bold" text-anchor="middle" fill="#000" >96</text>
<text x="69.0" y="219.9" font-size="5.8" font-weight="bold" text-anchor="middle" fill="#000" textLength="15.8" lengthAdjust="spacingAndGlyphs" >Hours</text>
<text x="68.8" y="125.3" font-size="6.4" font-weight="bold" text-anchor="middle" fill="#000" >PC9</text>
<text x="0" y="0" font-size="6.2" font-weight="bold" text-anchor="middle" fill="#000" textLength="84.2" lengthAdjust="spacingAndGlyphs" transform="translate(5.0,168.4) rotate(-90)">Relative absorbance to baseline</text>
<polyline points="17.30,197.03 43.15,193.00 69.00,188.09 94.85,172.81 120.70,148.02" fill="none" stroke="#c49060" stroke-width="0.9" />
<polyline points="17.30,197.03 43.15,194.15 69.00,190.11 94.85,178.00 120.70,158.40" fill="none" stroke="#3f6ef8" stroke-width="0.9" />
<polyline points="17.30,197.03 43.15,194.44 69.00,192.71 94.85,188.09 120.70,179.44" fill="none" stroke="#b0b040" stroke-width="0.9" />
<polyline points="17.30,197.03 43.15,195.88 69.00,196.75 94.85,195.30 120.70,192.25" fill="none" stroke="#ff5a48" stroke-width="0.9" />
<rect x="15.70" y="195.43" width="3.2" height="3.2" fill="#8e5218"/>
<rect x="41.55" y="191.40" width="3.2" height="3.2" fill="#8e5218"/>
<rect x="67.40" y="186.50" width="3.2" height="3.2" fill="#8e5218"/>
<rect x="93.25" y="171.21" width="3.2" height="3.2" fill="#8e5218"/>
<rect x="119.10" y="146.42" width="3.2" height="3.2" fill="#8e5218"/>
<polygon points="17.30,198.79 15.54,195.75 19.06,195.75" fill="#2a55ff"/>
<polygon points="43.15,195.91 41.39,192.87 44.91,192.87" fill="#2a55ff"/>
<polygon points="69.00,191.87 67.24,188.83 70.76,188.83" fill="#2a55ff"/>
<polygon points="94.85,179.76 93.09,176.72 96.61,176.72" fill="#2a55ff"/>
<polygon points="120.70,160.16 118.94,157.12 122.46,157.12" fill="#2a55ff"/>
<polygon points="17.30,195.27 15.54,198.31 19.06,198.31" fill="#8a8a10"/>
<polygon points="43.15,192.68 41.39,195.72 44.91,195.72" fill="#8a8a10"/>
<polygon points="69.00,190.95 67.24,193.99 70.76,193.99" fill="#8a8a10"/>
<polygon points="94.85,186.34 93.09,189.38 96.61,189.38" fill="#8a8a10"/>
<polygon points="120.70,177.69 118.94,180.72 122.46,180.72" fill="#8a8a10"/>
<circle cx="17.30" cy="197.03" r="1.6" fill="#ff2a1a"/>
<circle cx="43.15" cy="195.88" r="1.6" fill="#ff2a1a"/>
<circle cx="69.00" cy="196.75" r="1.6" fill="#ff2a1a"/>
<circle cx="94.85" cy="195.30" r="1.6" fill="#ff2a1a"/>
<circle cx="120.70" cy="192.25" r="1.6" fill="#ff2a1a"/>
<line x1="25.2" y1="139.4" x2="33.2" y2="139.4" stroke="#ff5a48" stroke-width="0.8" />
<circle cx="29.20" cy="139.40" r="1.4400000000000002" fill="#ff2a1a"/>
<text x="36.8" y="141.704" font-size="6.4" font-weight="normal" text-anchor="start" fill="#000" textLength="26" lengthAdjust="spacingAndGlyphs" >siALKBH5</text>
<line x1="25.2" y1="148.83" x2="33.2" y2="148.83" stroke="#c49060" stroke-width="0.8" />
<rect x="27.76" y="147.39" width="2.8800000000000003" height="2.8800000000000003" fill="#8e5218"/>
<text x="36.8" y="151.13400000000001" font-size="6.4" font-weight="normal" text-anchor="start" fill="#000" textLength="26.9" lengthAdjust="spacingAndGlyphs" >siCDKN1A</text>
<line x1="25.2" y1="158.26" x2="33.2" y2="158.26" stroke="#b0b040" stroke-width="0.8" />
<polygon points="29.20,156.68 27.62,159.41 30.78,159.41" fill="#8a8a10"/>
<text x="36.8" y="160.564" font-size="6.4" font-weight="normal" text-anchor="start" fill="#000" textLength="55.7" lengthAdjust="spacingAndGlyphs" >siALKBH5+siCDKN1A</text>
<line x1="25.2" y1="167.69" x2="33.2" y2="167.69" stroke="#3f6ef8" stroke-width="0.8" />
<polygon points="29.20,169.27 27.62,166.54 30.78,166.54" fill="#2a55ff"/>
<text x="36.8" y="169.994" font-size="6.4" font-weight="normal" text-anchor="start" fill="#000" textLength="12.4" lengthAdjust="spacingAndGlyphs" >siNC</text>
<polyline points="125.10000000000001,146.5 128.3,146.5 128.3,158.1 125.10000000000001,158.1" fill="none" stroke="#888" stroke-width="0.7"/>
<polyline points="125.10000000000001,158.6 128.3,158.6 128.3,179 125.10000000000001,179" fill="none" stroke="#888" stroke-width="0.7"/>
<polyline points="139.3,158.3 142.4,158.3 142.4,193.2 139.3,193.2" fill="none" stroke="#888" stroke-width="0.7"/>
<circle cx="132.20" cy="152" r="1.15" fill="#111"/>
<circle cx="134.95" cy="152" r="1.15" fill="#111"/>
<circle cx="137.70" cy="152" r="1.15" fill="#111"/>
<circle cx="140.45" cy="152" r="1.15" fill="#111"/>
<circle cx="132.20" cy="168.7" r="1.15" fill="#111"/>
<circle cx="134.95" cy="168.7" r="1.15" fill="#111"/>
<circle cx="137.70" cy="168.7" r="1.15" fill="#111"/>
<circle cx="140.45" cy="168.7" r="1.15" fill="#111"/>
<circle cx="146.40" cy="176.3" r="1.15" fill="#111"/>
<circle cx="149.15" cy="176.3" r="1.15" fill="#111"/>
<circle cx="151.90" cy="176.3" r="1.15" fill="#111"/>
<circle cx="154.65" cy="176.3" r="1.15" fill="#111"/>
<line x1="185.3" y1="133.7" x2="185.3" y2="203.0" stroke="#000" stroke-width="0.9" />
<line x1="185.3" y1="203.0" x2="292" y2="203.0" stroke="#222" stroke-width="1.1" />
<line x1="183.3" y1="203.0" x2="185.3" y2="203.0" stroke="#000" stroke-width="0.8" />
<text x="182.70000000000002" y="205.2" font-size="5.4" font-weight="bold" text-anchor="end" fill="#000" >0</text>
<line x1="183.3" y1="185.775" x2="185.3" y2="185.775" stroke="#000" stroke-width="0.8" />
<text x="182.70000000000002" y="187.975" font-size="5.4" font-weight="bold" text-anchor="end" fill="#000" >3</text>
<line x1="183.3" y1="168.55" x2="185.3" y2="168.55" stroke="#000" stroke-width="0.8" />
<text x="182.70000000000002" y="170.75" font-size="5.4" font-weight="bold" text-anchor="end" fill="#000" >6</text>
<line x1="183.3" y1="151.325" x2="185.3" y2="151.325" stroke="#000" stroke-width="0.8" />
<text x="182.70000000000002" y="153.52499999999998" font-size="5.4" font-weight="bold" text-anchor="end" fill="#000" >9</text>
<line x1="183.3" y1="134.1" x2="185.3" y2="134.1" stroke="#000" stroke-width="0.8" />
<text x="182.70000000000002" y="136.29999999999998" font-size="5.4" font-weight="bold" text-anchor="end" fill="#000" >12</text>
<line x1="185.3" y1="203.0" x2="185.3" y2="205.0" stroke="#000" stroke-width="0.8" />
<text x="185.3" y="211.3" font-size="5.2" font-weight="bold" text-anchor="middle" fill="#000" >0</text>
<line x1="211.4" y1="203.0" x2="211.4" y2="205.0" stroke="#000" stroke-width="0.8" />
<text x="211.4" y="211.3" font-size="5.2" font-weight="bold" text-anchor="middle" fill="#000" >24</text>
<line x1="237.50000000000003" y1="203.0" x2="237.50000000000003" y2="205.0" stroke="#000" stroke-width="0.8" />
<text x="237.50000000000003" y="211.3" font-size="5.2" font-weight="bold" text-anchor="middle" fill="#000" >48</text>
<line x1="263.6" y1="203.0" x2="263.6" y2="205.0" stroke="#000" stroke-width="0.8" />
<text x="263.6" y="211.3" font-size="5.2" font-weight="bold" text-anchor="middle" fill="#000" >72</text>
<line x1="289.70000000000005" y1="203.0" x2="289.70000000000005" y2="205.0" stroke="#000" stroke-width="0.8" />
<text x="289.70000000000005" y="211.3" font-size="5.2" font-weight="bold" text-anchor="middle" fill="#000" >96</text>
<text x="237.1" y="220.7" font-size="5.8" font-weight="bold" text-anchor="middle" fill="#000" textLength="15.8" lengthAdjust="spacingAndGlyphs" >Hours</text>
<text x="237.2" y="125.6" font-size="6.4" font-weight="bold" text-anchor="middle" fill="#000" >A549</text>
<text x="0" y="0" font-size="6.2" font-weight="bold" text-anchor="middle" fill="#000" textLength="84.2" lengthAdjust="spacingAndGlyphs" transform="translate(172.4,168.4) rotate(-90)">Relative absorbance to baseline</text>
<polyline points="185.30,197.26 211.40,191.52 237.50,185.20 263.60,167.40 289.70,143.57" fill="none" stroke="#c49060" stroke-width="0.9" />
<polyline points="185.30,197.26 211.40,192.66 237.50,188.07 263.60,170.27 289.70,157.64" fill="none" stroke="#3f6ef8" stroke-width="0.9" />
<polyline points="185.30,197.26 211.40,193.24 237.50,190.02 263.60,171.71 289.70,168.66" fill="none" stroke="#b0b040" stroke-width="0.9" />
<polyline points="185.30,197.26 211.40,193.81 237.50,192.32 263.60,181.18 289.70,176.13" fill="none" stroke="#ff5a48" stroke-width="0.9" />
<rect x="183.70" y="195.66" width="3.2" height="3.2" fill="#8e5218"/>
<rect x="209.80" y="189.92" width="3.2" height="3.2" fill="#8e5218"/>
<rect x="235.90" y="183.60" width="3.2" height="3.2" fill="#8e5218"/>
<rect x="262.00" y="165.80" width="3.2" height="3.2" fill="#8e5218"/>
<rect x="288.10" y="141.97" width="3.2" height="3.2" fill="#8e5218"/>
<polygon points="185.30,199.02 183.54,195.98 187.06,195.98" fill="#2a55ff"/>
<polygon points="211.40,194.42 209.64,191.38 213.16,191.38" fill="#2a55ff"/>
<polygon points="237.50,189.83 235.74,186.79 239.26,186.79" fill="#2a55ff"/>
<polygon points="263.60,172.03 261.84,168.99 265.36,168.99" fill="#2a55ff"/>
<polygon points="289.70,159.40 287.94,156.36 291.46,156.36" fill="#2a55ff"/>
<polygon points="185.30,195.50 183.54,198.54 187.06,198.54" fill="#8a8a10"/>
<polygon points="211.40,191.48 209.64,194.52 213.16,194.52" fill="#8a8a10"/>
<polygon points="237.50,188.26 235.74,191.30 239.26,191.30" fill="#8a8a10"/>
<polygon points="263.60,169.95 261.84,172.99 265.36,172.99" fill="#8a8a10"/>
<polygon points="289.70,166.90 287.94,169.94 291.46,169.94" fill="#8a8a10"/>
<circle cx="185.30" cy="197.26" r="1.6" fill="#ff2a1a"/>
<circle cx="211.40" cy="193.81" r="1.6" fill="#ff2a1a"/>
<circle cx="237.50" cy="192.32" r="1.6" fill="#ff2a1a"/>
<circle cx="263.60" cy="181.18" r="1.6" fill="#ff2a1a"/>
<circle cx="289.70" cy="176.13" r="1.6" fill="#ff2a1a"/>
<line x1="198.2" y1="141.5" x2="206.2" y2="141.5" stroke="#ff5a48" stroke-width="0.8" />
<circle cx="202.20" cy="141.50" r="1.4400000000000002" fill="#ff2a1a"/>
<text x="209.79999999999998" y="143.804" font-size="6.4" font-weight="normal" text-anchor="start" fill="#000" textLength="26" lengthAdjust="spacingAndGlyphs" >siALKBH5</text>
<line x1="198.2" y1="151.1" x2="206.2" y2="151.1" stroke="#c49060" stroke-width="0.8" />
<rect x="200.76" y="149.66" width="2.8800000000000003" height="2.8800000000000003" fill="#8e5218"/>
<text x="209.79999999999998" y="153.404" font-size="6.4" font-weight="normal" text-anchor="start" fill="#000" textLength="22" lengthAdjust="spacingAndGlyphs" >siTIMP3</text>
<line x1="198.2" y1="160.7" x2="206.2" y2="160.7" stroke="#b0b040" stroke-width="0.8" />
<polygon points="202.20,159.12 200.62,161.85 203.78,161.85" fill="#8a8a10"/>
<text x="209.79999999999998" y="163.004" font-size="6.4" font-weight="normal" text-anchor="start" fill="#000" textLength="50" lengthAdjust="spacingAndGlyphs" >siALKBH5+siTIMP3</text>
<line x1="198.2" y1="170.3" x2="206.2" y2="170.3" stroke="#3f6ef8" stroke-width="0.8" />
<polygon points="202.20,171.88 200.62,169.15 203.78,169.15" fill="#2a55ff"/>
<text x="209.79999999999998" y="172.604" font-size="6.4" font-weight="normal" text-anchor="start" fill="#000" textLength="12.4" lengthAdjust="spacingAndGlyphs" >siNC</text>
<polyline points="294.8,144.2 298.3,144.2 298.3,158.8 294.8,158.8" fill="none" stroke="#888" stroke-width="0.7"/>
<polyline points="294.8,159.6 298.3,159.6 298.3,168.4 294.8,168.4" fill="none" stroke="#888" stroke-width="0.7"/>
<polyline points="306.3,158.8 310.7,158.8 310.7,176.4 306.3,176.4" fill="none" stroke="#888" stroke-width="0.7"/>
<circle cx="302.10" cy="151.8" r="1.15" fill="#111"/>
<circle cx="304.85" cy="151.8" r="1.15" fill="#111"/>
<circle cx="307.60" cy="151.8" r="1.15" fill="#111"/>
<circle cx="302.10" cy="163.6" r="1.15" fill="#111"/>
<circle cx="304.85" cy="163.6" r="1.15" fill="#111"/>
<circle cx="307.60" cy="163.6" r="1.15" fill="#111"/>
<circle cx="313.20" cy="167.7" r="1.15" fill="#111"/>
<circle cx="315.95" cy="167.7" r="1.15" fill="#111"/>
<circle cx="318.70" cy="167.7" r="1.15" fill="#111"/>
<circle cx="321.45" cy="167.7" r="1.15" fill="#111"/>
<line x1="16.4" y1="250.79999999999998" x2="16.4" y2="319.7" stroke="#000" stroke-width="0.9" />
<line x1="16.4" y1="319.7" x2="119.5" y2="319.7" stroke="#9a9a9a" stroke-width="1.7" />
<line x1="14.399999999999999" y1="319.7" x2="16.4" y2="319.7" stroke="#000" stroke-width="0.8" />
<text x="13.799999999999999" y="321.9" font-size="5.4" font-weight="bold" text-anchor="end" fill="#000" >0</text>
<line x1="14.399999999999999" y1="302.575" x2="16.4" y2="302.575" stroke="#000" stroke-width="0.8" />
<text x="13.799999999999999" y="304.775" font-size="5.4" font-weight="bold" text-anchor="end" fill="#000" >2</text>
<line x1="14.399999999999999" y1="285.45" x2="16.4" y2="285.45" stroke="#000" stroke-width="0.8" />
<text x="13.799999999999999" y="287.65" font-size="5.4" font-weight="bold" text-anchor="end" fill="#000" >4</text>
<line x1="14.399999999999999" y1="268.325" x2="16.4" y2="268.325" stroke="#000" stroke-width="0.8" />
<text x="13.799999999999999" y="270.525" font-size="5.4" font-weight="bold" text-anchor="end" fill="#000" >6</text>
<line x1="14.399999999999999" y1="251.2" x2="16.4" y2="251.2" stroke="#000" stroke-width="0.8" />
<text x="13.799999999999999" y="253.39999999999998" font-size="5.4" font-weight="bold" text-anchor="end" fill="#000" >8</text>
<line x1="16.4" y1="319.7" x2="16.4" y2="321.7" stroke="#000" stroke-width="0.8" />
<text x="16.4" y="327.9" font-size="5.2" font-weight="bold" text-anchor="middle" fill="#000" >0</text>
<line x1="39.349999999999994" y1="319.7" x2="39.349999999999994" y2="321.7" stroke="#000" stroke-width="0.8" />
<text x="39.349999999999994" y="327.9" font-size="5.2" font-weight="bold" text-anchor="middle" fill="#000" >24</text>
<line x1="62.3" y1="319.7" x2="62.3" y2="321.7" stroke="#000" stroke-width="0.8" />
<text x="62.3" y="327.9" font-size="5.2" font-weight="bold" text-anchor="middle" fill="#000" >48</text>
<line x1="85.25" y1="319.7" x2="85.25" y2="321.7" stroke="#000" stroke-width="0.8" />
<text x="85.25" y="327.9" font-size="5.2" font-weight="bold" text-anchor="middle" fill="#000" >72</text>
<line x1="108.19999999999999" y1="319.7" x2="108.19999999999999" y2="321.7" stroke="#000" stroke-width="0.8" />
<text x="108.19999999999999" y="327.9" font-size="5.2" font-weight="bold" text-anchor="middle" fill="#000" >96</text>
<text x="68.3" y="336.6" font-size="5.8" font-weight="bold" text-anchor="middle" fill="#000" textLength="15.8" lengthAdjust="spacingAndGlyphs" >Hours</text>
<text x="68.0" y="242.4" font-size="6.4" font-weight="bold" text-anchor="middle" fill="#000" >PC9</text>
<text x="0" y="0" font-size="6.2" font-weight="bold" text-anchor="middle" fill="#000" textLength="83.5" lengthAdjust="spacingAndGlyphs" transform="translate(7.1,285.6) rotate(-90)">Relative absorbance to baseline</text>
<polyline points="16.40,311.14 39.35,306.86 62.30,302.57 85.25,294.44 108.20,285.45" fill="none" stroke="#c8f060" stroke-width="1.1" stroke-dasharray="2,1.2"/>
<polyline points="16.40,311.14 39.35,306.00 62.30,297.44 85.25,289.30 108.20,278.60" fill="none" stroke="#e080f0" stroke-width="1.1" stroke-dasharray="2,1.2"/>
<polyline points="16.40,311.14 39.35,306.86 62.30,301.72 85.25,292.30 108.20,280.48" fill="none" stroke="#ffa020" stroke-width="1.1" stroke-dasharray="2,1.2"/>
<polyline points="16.40,311.14 39.35,303.43 62.30,297.09 85.25,281.17 108.20,255.65" fill="none" stroke="#2050ff" stroke-width="1.1" />
<polyline points="16.40,311.14 39.35,308.23 62.30,303.77 85.25,297.69 108.20,292.64" fill="none" stroke="#ff2a1a" stroke-width="1.1" />
<circle cx="16.40" cy="311.14" r="1.5" fill="#c8f060"/>
<circle cx="39.35" cy="306.86" r="1.5" fill="#c8f060"/>
<circle cx="62.30" cy="302.57" r="1.5" fill="#c8f060"/>
<circle cx="85.25" cy="294.44" r="1.5" fill="#c8f060"/>
<circle cx="108.20" cy="285.45" r="1.5" fill="#c8f060"/>
<polygon points="16.40,309.49 14.75,312.34 18.05,312.34" fill="#e080f0"/>
<polygon points="39.35,304.35 37.70,307.20 41.00,307.20" fill="#e080f0"/>
<polygon points="62.30,295.79 60.65,298.64 63.95,298.64" fill="#e080f0"/>
<polygon points="85.25,287.65 83.60,290.50 86.90,290.50" fill="#e080f0"/>
<polygon points="108.20,276.95 106.55,279.80 109.85,279.80" fill="#e080f0"/>
<polygon points="16.40,312.79 14.75,309.94 18.05,309.94" fill="#ffa020"/>
<polygon points="39.35,308.51 37.70,305.66 41.00,305.66" fill="#ffa020"/>
<polygon points="62.30,303.37 60.65,300.52 63.95,300.52" fill="#ffa020"/>
<polygon points="85.25,293.95 83.60,291.10 86.90,291.10" fill="#ffa020"/>
<polygon points="108.20,282.13 106.55,279.28 109.85,279.28" fill="#ffa020"/>
<circle cx="16.40" cy="311.14" r="1.5" fill="#2050ff"/>
<circle cx="39.35" cy="303.43" r="1.5" fill="#2050ff"/>
<circle cx="62.30" cy="297.09" r="1.5" fill="#2050ff"/>
<circle cx="85.25" cy="281.17" r="1.5" fill="#2050ff"/>
<circle cx="108.20" cy="255.65" r="1.5" fill="#2050ff"/>
<circle cx="16.40" cy="311.14" r="1.5" fill="#ff2a1a"/>
<circle cx="39.35" cy="308.23" r="1.5" fill="#ff2a1a"/>
<circle cx="62.30" cy="303.77" r="1.5" fill="#ff2a1a"/>
<circle cx="85.25" cy="297.69" r="1.5" fill="#ff2a1a"/>
<circle cx="108.20" cy="292.64" r="1.5" fill="#ff2a1a"/>
<line x1="24.3" y1="253.3" x2="32.3" y2="253.3" stroke="#ff2a1a" stroke-width="0.8" />
<circle cx="28.30" cy="253.30" r="1.35" fill="#ff2a1a"/>
<text x="35.9" y="254.776" font-size="4.1" font-weight="bold" text-anchor="start" fill="#3a3a3a" textLength="16.5" lengthAdjust="spacingAndGlyphs" style="stroke:none">siALKBH5</text>
<line x1="24.3" y1="260.2" x2="32.3" y2="260.2" stroke="#c8f060" stroke-width="0.8" stroke-dasharray="2,1.2"/>
<circle cx="28.30" cy="260.20" r="1.35" fill="#c8f060"/>
<text x="35.9" y="261.676" font-size="4.1" font-weight="bold" text-anchor="start" fill="#3a3a3a" textLength="35.8" lengthAdjust="spacingAndGlyphs" style="stroke:none">siALKBH5+siIGF2BP1</text>
<line x1="24.3" y1="267.1" x2="32.3" y2="267.1" stroke="#e080f0" stroke-width="0.8" stroke-dasharray="2,1.2"/>
<polygon points="28.30,265.62 26.82,268.18 29.79,268.18" fill="#e080f0"/>
<text x="35.9" y="268.576" font-size="4.1" font-weight="bold" text-anchor="start" fill="#3a3a3a" textLength="35.8" lengthAdjust="spacingAndGlyphs" style="stroke:none">siALKBH5+siIGF2BP2</text>
<line x1="24.3" y1="274.0" x2="32.3" y2="274.0" stroke="#ffa020" stroke-width="0.8" stroke-dasharray="2,1.2"/>
<polygon points="28.30,275.49 26.82,272.92 29.79,272.92" fill="#ffa020"/>
<text x="35.9" y="275.476" font-size="4.1" font-weight="bold" text-anchor="start" fill="#3a3a3a" textLength="35.8" lengthAdjust="spacingAndGlyphs" style="stroke:none">siALKBH5+siIGF2BP3</text>
<line x1="24.3" y1="280.90000000000003" x2="32.3" y2="280.90000000000003" stroke="#2050ff" stroke-width="0.8" />
<circle cx="28.30" cy="280.90" r="1.35" fill="#2050ff"/>
<text x="35.9" y="282.37600000000003" font-size="4.1" font-weight="bold" text-anchor="start" fill="#3a3a3a" textLength="7.9" lengthAdjust="spacingAndGlyphs" style="stroke:none">siNC</text>
<polyline points="113.39999999999999,286.4 116.6,286.4 116.6,293.2 113.39999999999999,293.2" fill="none" stroke="#888" stroke-width="0.7"/>
<polyline points="119.2,280.4 121.9,280.4 121.9,293.2 119.2,293.2" fill="none" stroke="#888" stroke-width="0.7"/>
<polyline points="127.89999999999999,279.1 131.2,279.1 131.2,293.2 127.89999999999999,293.2" fill="none" stroke="#888" stroke-width="0.7"/>
<polyline points="136.0,255.2 139.4,255.2 139.4,293.2 136.0,293.2" fill="none" stroke="#888" stroke-width="0.7"/>
<circle cx="120.00" cy="289.2" r="1.15" fill="#111"/>
<circle cx="125.20" cy="286.9" r="1.15" fill="#111"/>
<circle cx="127.95" cy="286.9" r="1.15" fill="#111"/>
<circle cx="134.20" cy="286.4" r="1.15" fill="#111"/>
<circle cx="136.95" cy="286.4" r="1.15" fill="#111"/>
<circle cx="142.70" cy="274.2" r="1.15" fill="#111"/>
<circle cx="145.45" cy="274.2" r="1.15" fill="#111"/>
<circle cx="148.20" cy="274.2" r="1.15" fill="#111"/>
<circle cx="150.95" cy="274.2" r="1.15" fill="#111"/>
<line x1="184.4" y1="251.7" x2="184.4" y2="321.5" stroke="#000" stroke-width="0.9" />
<line x1="184.4" y1="321.5" x2="287.7" y2="321.5" stroke="#222" stroke-width="1.1" />
<line x1="182.4" y1="321.5" x2="184.4" y2="321.5" stroke="#000" stroke-width="0.8" />
<text x="181.8" y="323.7" font-size="5.4" font-weight="bold" text-anchor="end" fill="#000" >0</text>
<line x1="182.4" y1="298.3666666666667" x2="184.4" y2="298.3666666666667" stroke="#000" stroke-width="0.8" />
<text x="181.8" y="300.56666666666666" font-size="5.4" font-weight="bold" text-anchor="end" fill="#000" >4</text>
<line x1="182.4" y1="275.23333333333335" x2="184.4" y2="275.23333333333335" stroke="#000" stroke-width="0.8" />
<text x="181.8" y="277.43333333333334" font-size="5.4" font-weight="bold" text-anchor="end" fill="#000" >8</text>
<line x1="182.4" y1="252.1" x2="184.4" y2="252.1" stroke="#000" stroke-width="0.8" />
<text x="181.8" y="254.29999999999998" font-size="5.4" font-weight="bold" text-anchor="end" fill="#000" >12</text>
<line x1="184.4" y1="321.5" x2="184.4" y2="323.5" stroke="#000" stroke-width="0.8" />
<text x="184.4" y="329.6" font-size="5.2" font-weight="bold" text-anchor="middle" fill="#000" >0</text>
<line x1="207.75" y1="321.5" x2="207.75" y2="323.5" stroke="#000" stroke-width="0.8" />
<text x="207.75" y="329.6" font-size="5.2" font-weight="bold" text-anchor="middle" fill="#000" >24</text>
<line x1="231.10000000000002" y1="321.5" x2="231.10000000000002" y2="323.5" stroke="#000" stroke-width="0.8" />
<text x="231.10000000000002" y="329.6" font-size="5.2" font-weight="bold" text-anchor="middle" fill="#000" >48</text>
<line x1="254.45" y1="321.5" x2="254.45" y2="323.5" stroke="#000" stroke-width="0.8" />
<text x="254.45" y="329.6" font-size="5.2" font-weight="bold" text-anchor="middle" fill="#000" >72</text>
<line x1="277.8" y1="321.5" x2="277.8" y2="323.5" stroke="#000" stroke-width="0.8" />
<text x="277.8" y="329.6" font-size="5.2" font-weight="bold" text-anchor="middle" fill="#000" >96</text>
<text x="237.0" y="338.8" font-size="5.8" font-weight="bold" text-anchor="middle" fill="#000" textLength="15.8" lengthAdjust="spacingAndGlyphs" >Hours</text>
<text x="237.0" y="242.7" font-size="6.4" font-weight="bold" text-anchor="middle" fill="#000" >A549</text>
<text x="0" y="0" font-size="6.2" font-weight="bold" text-anchor="middle" fill="#000" textLength="84.3" lengthAdjust="spacingAndGlyphs" transform="translate(172.4,286.5) rotate(-90)">Relative absorbance to baseline</text>
<polyline points="184.40,315.72 207.75,312.25 231.10,304.96 254.45,293.45 277.80,270.61" fill="none" stroke="#2050ff" stroke-width="1.1" />
<polyline points="184.40,315.72 207.75,314.91 231.10,310.80 254.45,303.28 277.80,290.85" fill="none" stroke="#ff2a1a" stroke-width="1.1" />
<polyline points="184.40,315.72 207.75,312.25 231.10,307.62 254.45,297.79 277.80,268.29" fill="none" stroke="#ffa020" stroke-width="1.1" stroke-dasharray="2,1.2"/>
<polyline points="184.40,315.72 207.75,311.09 231.10,306.46 254.45,294.90 277.80,270.32" fill="none" stroke="#c8f060" stroke-width="1.1" stroke-dasharray="2,1.2"/>
<polyline points="184.40,315.72 207.75,311.67 231.10,307.04 254.45,296.05 277.80,267.71" fill="none" stroke="#e080f0" stroke-width="1.1" stroke-dasharray="2,1.2"/>
<circle cx="184.40" cy="315.72" r="1.5" fill="#2050ff"/>
<circle cx="207.75" cy="312.25" r="1.5" fill="#2050ff"/>
<circle cx="231.10" cy="304.96" r="1.5" fill="#2050ff"/>
<circle cx="254.45" cy="293.45" r="1.5" fill="#2050ff"/>
<circle cx="277.80" cy="270.61" r="1.5" fill="#2050ff"/>
<circle cx="184.40" cy="315.72" r="1.5" fill="#ff2a1a"/>
<circle cx="207.75" cy="314.91" r="1.5" fill="#ff2a1a"/>
<circle cx="231.10" cy="310.80" r="1.5" fill="#ff2a1a"/>
<circle cx="254.45" cy="303.28" r="1.5" fill="#ff2a1a"/>
<circle cx="277.80" cy="290.85" r="1.5" fill="#ff2a1a"/>
<polygon points="184.40,317.37 182.75,314.52 186.05,314.52" fill="#ffa020"/>
<polygon points="207.75,313.90 206.10,311.05 209.40,311.05" fill="#ffa020"/>
<polygon points="231.10,309.27 229.45,306.42 232.75,306.42" fill="#ffa020"/>
<polygon points="254.45,299.44 252.80,296.59 256.10,296.59" fill="#ffa020"/>
<polygon points="277.80,269.94 276.15,267.09 279.45,267.09" fill="#ffa020"/>
<circle cx="184.40" cy="315.72" r="1.5" fill="#c8f060"/>
<circle cx="207.75" cy="311.09" r="1.5" fill="#c8f060"/>
<circle cx="231.10" cy="306.46" r="1.5" fill="#c8f060"/>
<circle cx="254.45" cy="294.90" r="1.5" fill="#c8f060"/>
<circle cx="277.80" cy="270.32" r="1.5" fill="#c8f060"/>
<polygon points="184.40,314.07 182.75,316.92 186.05,316.92" fill="#e080f0"/>
<polygon points="207.75,310.02 206.10,312.87 209.40,312.87" fill="#e080f0"/>
<polygon points="231.10,305.39 229.45,308.24 232.75,308.24" fill="#e080f0"/>
<polygon points="254.45,294.40 252.80,297.25 256.10,297.25" fill="#e080f0"/>
<polygon points="277.80,266.06 276.15,268.91 279.45,268.91" fill="#e080f0"/>
<line x1="193.6" y1="255.2" x2="201.6" y2="255.2" stroke="#ff2a1a" stroke-width="0.8" />
<circle cx="197.60" cy="255.20" r="1.35" fill="#ff2a1a"/>
<text x="205.2" y="256.712" font-size="4.2" font-weight="bold" text-anchor="start" fill="#3a3a3a" textLength="17.3" lengthAdjust="spacingAndGlyphs" style="stroke:none">siALKBH5</text>
<line x1="193.6" y1="262.17" x2="201.6" y2="262.17" stroke="#c8f060" stroke-width="0.8" stroke-dasharray="2,1.2"/>
<circle cx="197.60" cy="262.17" r="1.35" fill="#c8f060"/>
<text x="205.2" y="263.682" font-size="4.2" font-weight="bold" text-anchor="start" fill="#3a3a3a" textLength="37.2" lengthAdjust="spacingAndGlyphs" style="stroke:none">siALKBH5+siIGF2BP1</text>
<line x1="193.6" y1="269.14" x2="201.6" y2="269.14" stroke="#e080f0" stroke-width="0.8" stroke-dasharray="2,1.2"/>
<polygon points="197.60,267.65 196.11,270.22 199.09,270.22" fill="#e080f0"/>
<text x="205.2" y="270.652" font-size="4.2" font-weight="bold" text-anchor="start" fill="#3a3a3a" textLength="37.2" lengthAdjust="spacingAndGlyphs" style="stroke:none">siALKBH5+siIGF2BP2</text>
<line x1="193.6" y1="276.11" x2="201.6" y2="276.11" stroke="#ffa020" stroke-width="0.8" stroke-dasharray="2,1.2"/>
<polygon points="197.60,277.60 196.11,275.03 199.09,275.03" fill="#ffa020"/>
<text x="205.2" y="277.622" font-size="4.2" font-weight="bold" text-anchor="start" fill="#3a3a3a" textLength="37.2" lengthAdjust="spacingAndGlyphs" style="stroke:none">siALKBH5+siIGF2BP3</text>
<line x1="193.6" y1="283.08" x2="201.6" y2="283.08" stroke="#2050ff" stroke-width="0.8" />
<circle cx="197.60" cy="283.08" r="1.35" fill="#2050ff"/>
<text x="205.2" y="284.592" font-size="4.2" font-weight="bold" text-anchor="start" fill="#3a3a3a" textLength="8" lengthAdjust="spacingAndGlyphs" style="stroke:none">siNC</text>
<line x1="277.7" y1="256.6" x2="277.7" y2="277.3" stroke="#e080f0" stroke-width="0.6" />
<line x1="276.2" y1="256.6" x2="279.2" y2="256.6" stroke="#e080f0" stroke-width="0.6" />
<line x1="276.2" y1="277.3" x2="279.2" y2="277.3" stroke="#e080f0" stroke-width="0.6" />
<line x1="277.7" y1="288.5" x2="277.7" y2="293.5" stroke="#ff2a1a" stroke-width="0.6" />
<polyline points="280.4,271.2 283.9,271.2 283.9,291.1 280.4,291.1" fill="none" stroke="#888" stroke-width="0.7"/>
<polyline points="291.2,268.9 295.0,268.9 295.0,291.1 291.2,291.1" fill="none" stroke="#888" stroke-width="0.7"/>
<polyline points="301.90000000000003,267.2 306.1,267.2 306.1,291.1 301.90000000000003,291.1" fill="none" stroke="#888" stroke-width="0.7"/>
<circle cx="287.40" cy="281.5" r="1.15" fill="#111"/>
<circle cx="290.15" cy="281.5" r="1.15" fill="#111"/>
<circle cx="292.90" cy="281.5" r="1.15" fill="#111"/>
<circle cx="298.50" cy="280.5" r="1.15" fill="#111"/>
<circle cx="301.25" cy="280.5" r="1.15" fill="#111"/>
<circle cx="304.00" cy="280.5" r="1.15" fill="#111"/>
<circle cx="309.80" cy="279.2" r="1.15" fill="#111"/>
<circle cx="312.55" cy="279.2" r="1.15" fill="#111"/>
<circle cx="315.30" cy="279.2" r="1.15" fill="#111"/></g>
</svg>
</body></html>
